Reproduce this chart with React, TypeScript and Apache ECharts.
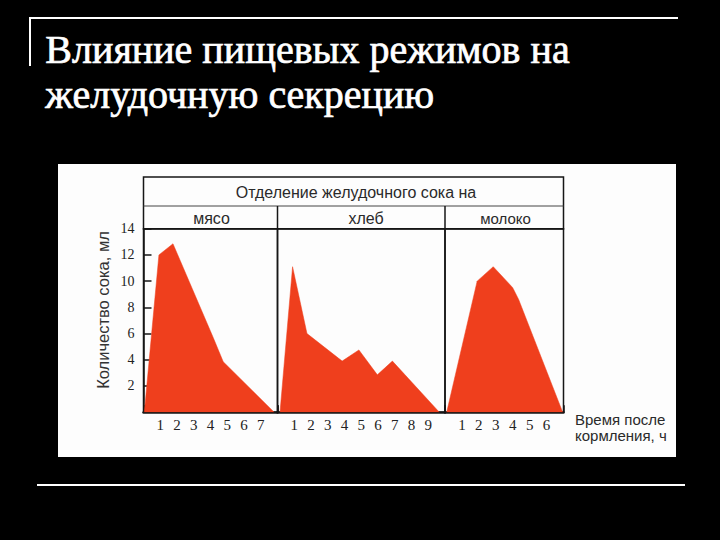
import React, { useEffect, useRef } from "react";
import * as echarts from "echarts";

// Hours after feeding (x) and juice volume, ml (y)
const meatHours = [0.05, 0.92, 1.76, 4.16, 4.76, 7.8];
const meatValues = [0, 12, 12.85, 5.7, 3.85, 0];
const breadHours = [0.15, 0.9, 1.76, 3.86, 4.86, 5.96, 6.86, 9.66];
const breadValues = [0, 11.1, 6.0, 3.9, 4.75, 2.85, 3.9, 0];
const milkHours = [0.1, 1.9, 2.85, 4.0, 4.35, 6.95];
const milkValues = [0, 10.0, 11.1, 9.5, 8.6, 0];

const panelNames = ["мясо", "хлеб", "молоко"];
const panelMaxHours = [8, 10, 7];
const meatHourLabels = [1, 2, 3, 4, 5, 6, 7];
const breadHourLabels = [1, 2, 3, 4, 5, 6, 7, 8, 9];
const milkHourLabels = [1, 2, 3, 4, 5, 6];
const yTickLabels = [2, 4, 6, 8, 10, 12, 14];

const titleLines = ["Влияние пищевых режимов на", "желудочную секрецию"];
const headerText = "Отделение желудочного сока на";
const yAxisTitle = "Количество сока, мл";
const xAxisTitle = "Время после\nкормления, ч";

const FILL = "#ef3f1d";
const INK = "#161616";
const SERIF = "'Liberation Serif', 'Times New Roman', serif";
const SANS = "'Liberation Sans', Arial, sans-serif";

const pairs = (xs: number[], ys: number[]) => xs.map((x, i) => [x, ys[i]]);

export default function App() {
  const ref = useRef<HTMLDivElement>(null);

  useEffect(() => {
    if (!ref.current) return;
    const chart = echarts.init(ref.current, undefined, { renderer: "svg" });

    const top = 228.7;
    const height = 183.5;
    const grids = [
      { left: 143.5, top, width: 134, height },
      { left: 277.5, top, width: 167.5, height },
      { left: 445, top, width: 118.5, height },
    ].map((g) => ({
      ...g,
      show: true,
      borderColor: INK,
      borderWidth: 1.5,
      backgroundColor: "transparent",
      containLabel: false,
    }));

    const hourLabels = [meatHourLabels, breadHourLabels, milkHourLabels];

    const xAxes = panelMaxHours.map((mx, i) => ({
      type: "value",
      gridIndex: i,
      min: 0,
      max: mx,
      interval: 1,
      axisLine: { show: true, lineStyle: { color: INK, width: 2.5 } },
      axisTick: { show: true, inside: true, length: 7, lineStyle: { color: INK, width: 1.5 } },
      splitLine: { show: false },
      axisLabel: {
        show: true,
        margin: 5,
        color: "#222",
        fontFamily: SERIF,
        fontSize: 15,
        formatter: (v: number) => (hourLabels[i].includes(v) ? String(v) : ""),
      },
    }));

    const yAxes = panelMaxHours.map((_, i) => ({
      type: "value",
      gridIndex: i,
      min: 0,
      max: 14,
      interval: 2,
      show: i === 0,
      axisLine: { show: true, lineStyle: { color: INK, width: 1.5 } },
      axisTick: { show: true, inside: true, length: 8, lineStyle: { color: INK, width: 1.5 } },
      splitLine: { show: false },
      axisLabel: {
        show: true,
        margin: 9,
        color: "#222",
        fontFamily: SERIF,
        fontSize: 14,
        formatter: (v: number) => (yTickLabels.includes(v) ? String(v) : ""),
      },
    }));

    const seriesData = [
      pairs(meatHours, meatValues),
      pairs(breadHours, breadValues),
      pairs(milkHours, milkValues),
    ];

    const series = seriesData.map((d, i) => ({
      type: "line",
      name: panelNames[i],
      xAxisIndex: i,
      yAxisIndex: i,
      data: d,
      showSymbol: false,
      symbol: "none",
      smooth: false,
      lineStyle: { width: 0.5, color: FILL },
      areaStyle: { color: FILL, opacity: 1 },
      z: 1,
    }));

    const white = "#ffffff";
    const graphic: any[] = [
      // slide decorations
      { type: "line", shape: { x1: 30, y1: 18, x2: 678, y2: 18 }, style: { stroke: white, lineWidth: 2 } },
      { type: "line", shape: { x1: 30, y1: 17, x2: 30, y2: 66 }, style: { stroke: white, lineWidth: 2 } },
      { type: "line", shape: { x1: 37, y1: 485, x2: 685, y2: 485 }, style: { stroke: white, lineWidth: 2 } },
      {
        type: "text",
        left: 45,
        top: 29,
        style: { text: titleLines[0], fill: white, stroke: white, lineWidth: 0.7, font: `40px ${SERIF}` },
      },
      {
        type: "text",
        left: 45,
        top: 74,
        style: { text: titleLines[1], fill: white, stroke: white, lineWidth: 0.7, font: `40px ${SERIF}` },
      },
      // white picture background
      { type: "rect", shape: { x: 58, y: 164, width: 618, height: 293 }, style: { fill: "#fdfdfd" }, z: -10 },
      // header table
      {
        type: "rect",
        shape: { x: 143.5, y: 177, width: 420, height: 52 },
        style: { fill: "none", stroke: INK, lineWidth: 1.5 },
      },
      { type: "line", shape: { x1: 143.5, y1: 206, x2: 563.5, y2: 206 }, style: { stroke: "#444", lineWidth: 1 } },
      { type: "line", shape: { x1: 277.5, y1: 206, x2: 277.5, y2: 229 }, style: { stroke: INK, lineWidth: 1.5 } },
      { type: "line", shape: { x1: 445, y1: 206, x2: 445, y2: 229 }, style: { stroke: INK, lineWidth: 1.5 } },
      {
        type: "text",
        x: 356,
        y: 192,
        style: { text: headerText, fill: "#2a2a2a", font: `16px ${SANS}`, align: "center", verticalAlign: "middle" },
      },
      {
        type: "text",
        x: 211.5,
        y: 218,
        style: { text: panelNames[0], fill: "#2a2a2a", font: `16px ${SANS}`, align: "center", verticalAlign: "middle" },
      },
      {
        type: "text",
        x: 366,
        y: 218,
        style: { text: panelNames[1], fill: "#2a2a2a", font: `16px ${SANS}`, align: "center", verticalAlign: "middle" },
      },
      {
        type: "text",
        x: 505.5,
        y: 218,
        style: { text: panelNames[2], fill: "#2a2a2a", font: `15px ${SANS}`, align: "center", verticalAlign: "middle" },
      },
      {
        type: "text",
        x: 102.5,
        y: 310,
        rotation: Math.PI / 2,
        style: { text: yAxisTitle, fill: "#333", font: `16.5px ${SANS}`, align: "center", verticalAlign: "middle" },
      },
      {
        type: "text",
        x: 575,
        y: 411,
        style: { text: xAxisTitle, fill: "#2a2a2a", font: `15px ${SANS}`, lineHeight: 16, align: "left", verticalAlign: "top" },
      },
    ];

    chart.setOption({
      animation: false,
      backgroundColor: "#000000",
      grid: grids,
      xAxis: xAxes,
      yAxis: yAxes,
      series,
      graphic,
    });

    return () => chart.dispose();
  }, []);

  return (
    <div
      ref={ref}
      style={{ position: "fixed", left: 0, top: 0, width: 720, height: 540, background: "#000" }}
    />
  );
}
